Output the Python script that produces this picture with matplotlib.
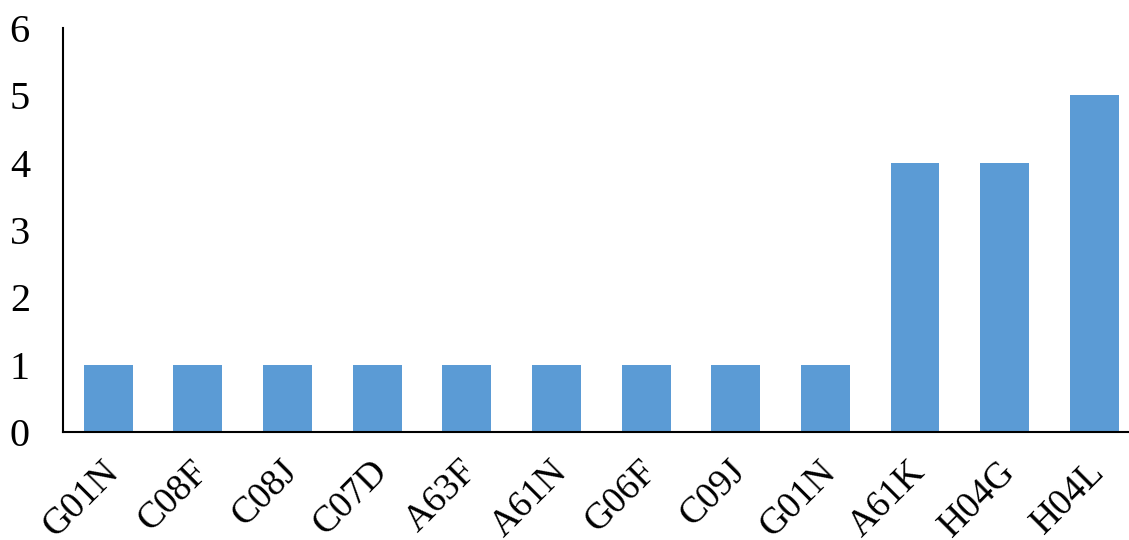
import matplotlib
matplotlib.use("Agg")
import matplotlib.pyplot as plt
from matplotlib.transforms import ScaledTranslation

categories = ["G01N", "C08F", "C08J", "C07D", "A63F", "A61N", "G06F", "C09J", "G01N", "A61K", "H04G", "H04L"]
values = [1, 1, 1, 1, 1, 1, 1, 1, 1, 4, 4, 5]

plt.rcParams["font.family"] = ["Liberation Serif", "DejaVu Serif"]

fig = plt.figure(figsize=(11.29, 5.4), dpi=100)
ax = fig.add_axes([0.056, 0.2, 0.953, 0.748])

x = list(range(len(categories)))
ax.bar(x, values, width=0.546, color="#5B9BD5")
ax.set_xlim(-0.5, len(categories) - 0.5)
ax.set_ylim(0, 6)
ax.set_yticks(range(0, 7))
ax.set_xticks(x)
ax.set_xticklabels(categories, rotation=45, ha="right", rotation_mode="anchor")

ax.tick_params(axis="y", length=0, labelsize=29, pad=24)
ax.tick_params(axis="x", length=0, labelsize=27, pad=16)
# nudge x labels a bit left
shift = ScaledTranslation(-7 / 100, 0, fig.dpi_scale_trans)
for lbl in ax.get_xticklabels():
    lbl.set_transform(lbl.get_transform() + shift)
for s in ["top", "right"]:
    ax.spines[s].set_visible(False)
ax.spines["left"].set_linewidth(1.5)
ax.spines["bottom"].set_linewidth(1.5)

fig.savefig("out.png", dpi=100)
